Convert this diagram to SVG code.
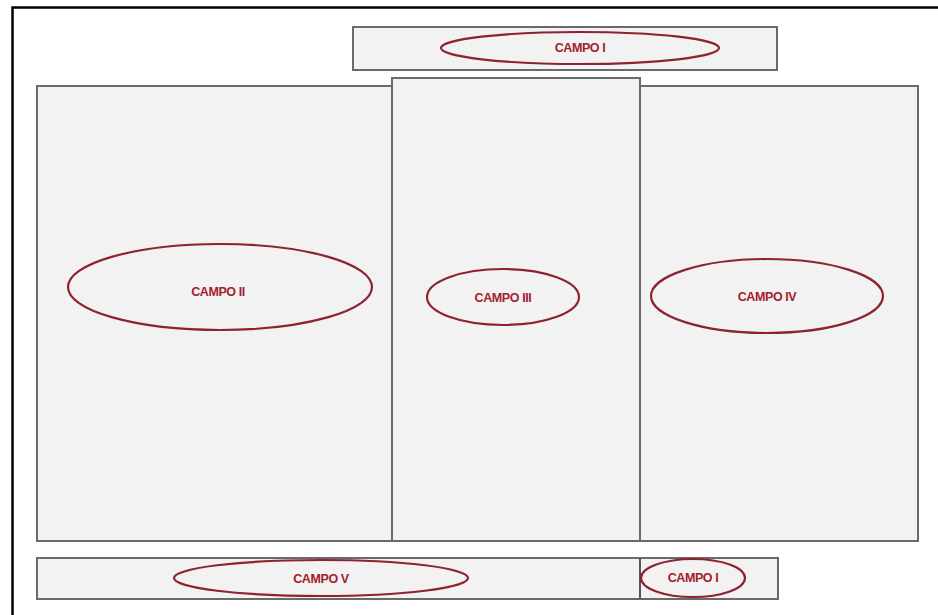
<svg xmlns="http://www.w3.org/2000/svg" width="938" height="615" viewBox="0 0 938 615">
<style>
.box{fill:#f2f2f2;stroke:#6a6a6a;stroke-width:2}
.ell{fill:#f2f2f2;stroke:#8e2230;stroke-width:2.2}
.lbl{font-family:"Liberation Sans",Arial,sans-serif;font-size:12.5px;font-weight:bold;fill:#a3202c;text-anchor:middle;dominant-baseline:central;letter-spacing:-0.4px}
</style>
<rect width="938" height="615" fill="#ffffff"/>
<path d="M12.5,615 V7.5 H938" fill="none" stroke="#000" stroke-width="2.5"/>
<g id="top-campo-i">
<rect class="box" x="353" y="27" width="424" height="43"/>
<ellipse class="ell" cx="580" cy="48" rx="139" ry="16"/>
<text class="lbl" x="580" y="48">CAMPO I</text>
</g>
<g id="campo-ii">
<rect class="box" x="37" y="86" width="355" height="455"/>
<ellipse class="ell" cx="220" cy="287" rx="152" ry="43"/>
<text class="lbl" x="218" y="292">CAMPO II</text>
</g>
<g id="campo-iv">
<rect class="box" x="640" y="86" width="278" height="455"/>
<ellipse class="ell" cx="767" cy="296" rx="116" ry="37"/>
<text class="lbl" x="767" y="297">CAMPO IV</text>
</g>
<g id="campo-iii">
<rect class="box" x="392" y="78" width="248" height="463"/>
<ellipse class="ell" cx="503" cy="297" rx="76" ry="28"/>
<text class="lbl" x="503" y="298">CAMPO III</text>
</g>
<g id="bottom">
<rect class="box" x="37" y="558" width="741" height="41"/>
<line x1="640" y1="558" x2="640" y2="599" stroke="#555" stroke-width="2"/>
</g>
<g id="campo-v">
<ellipse class="ell" cx="321" cy="578" rx="147" ry="18"/>
<text class="lbl" x="321" y="579">CAMPO V</text>
</g>
<g id="bottom-campo-i">
<ellipse class="ell" cx="693" cy="578" rx="52" ry="19"/>
<text class="lbl" x="693" y="578">CAMPO I</text>
</g>
<g id="connectors"></g>
</svg>
